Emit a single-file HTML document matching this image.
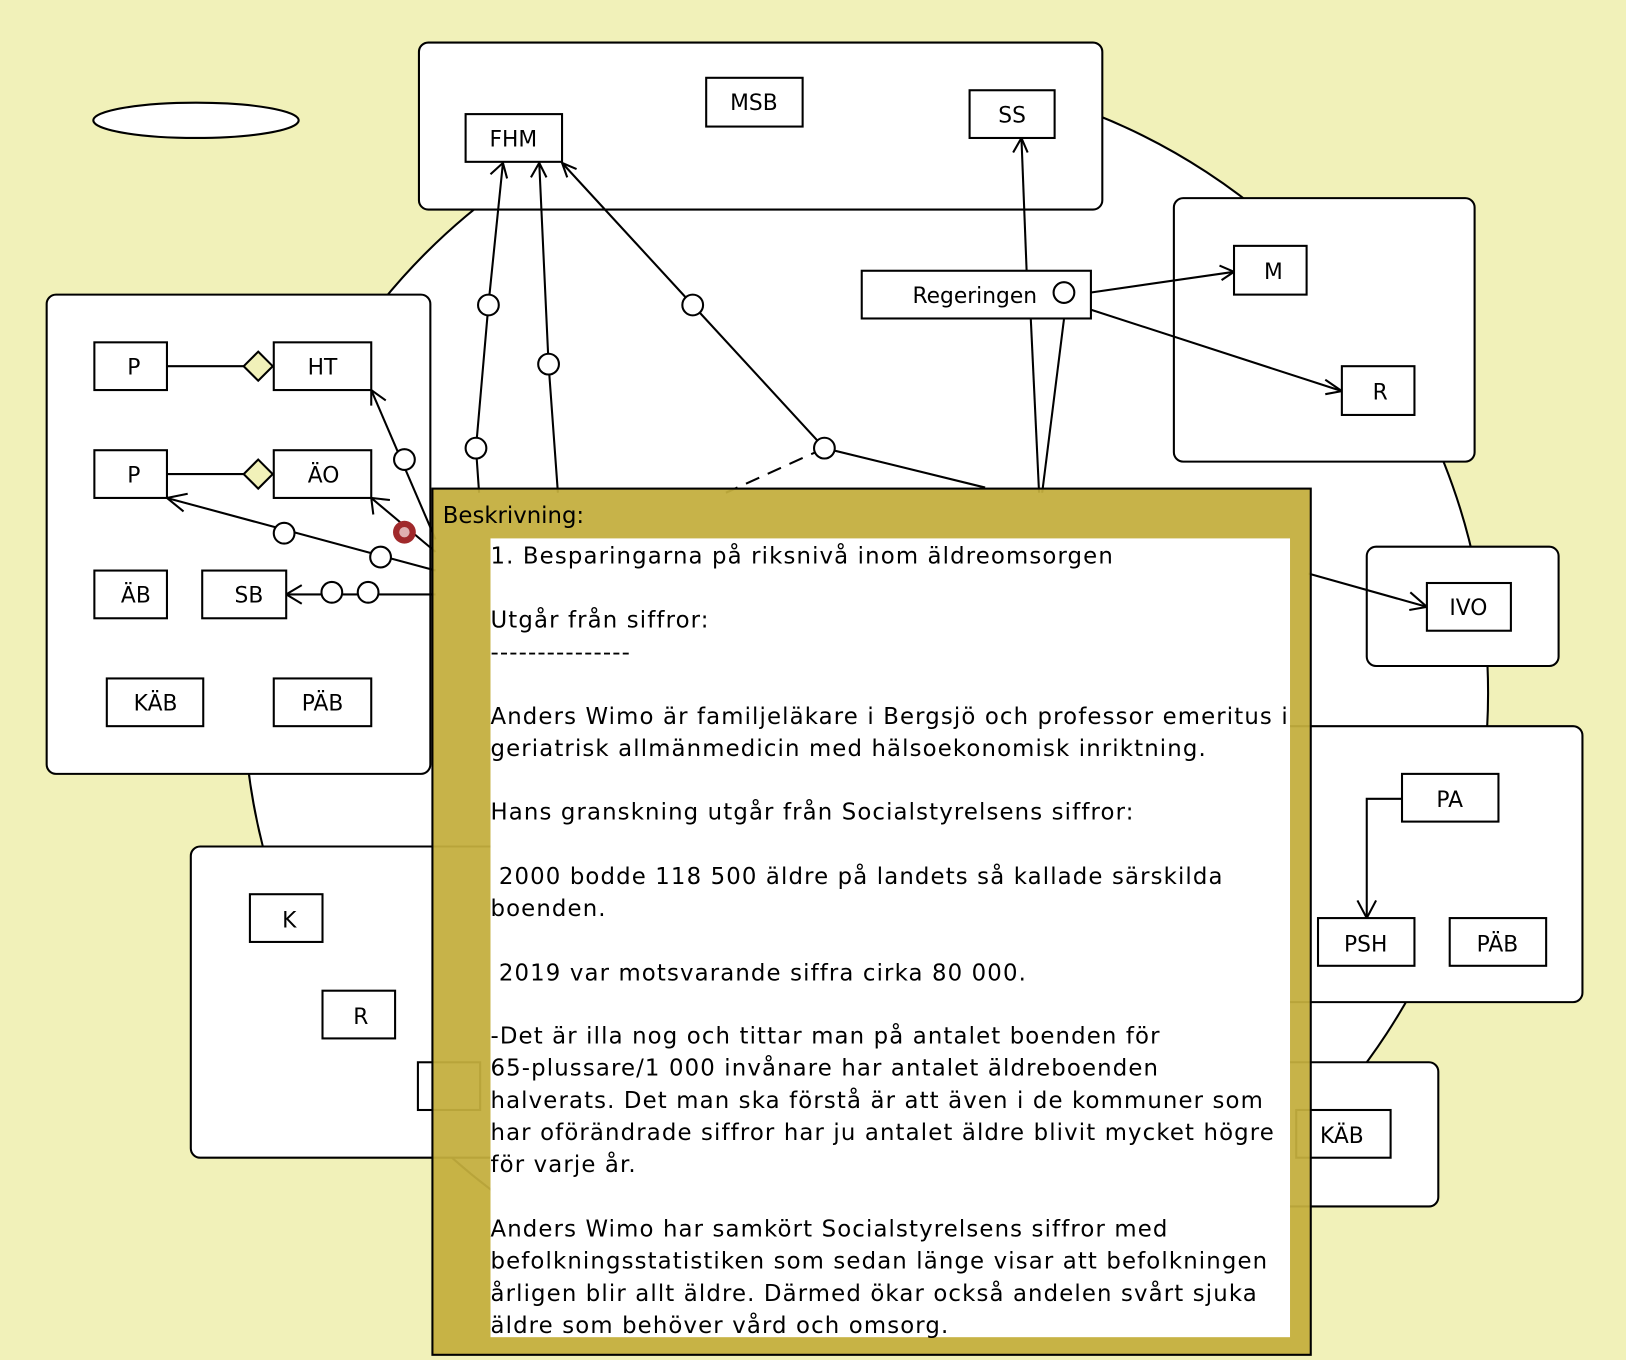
<!DOCTYPE html>
<html><head><meta charset="utf-8"><style>
html,body{margin:0;padding:0;width:1626px;height:1360px;overflow:hidden;background:#f1f1b9}
svg{display:block}
text{font-family:"DejaVu Sans","Liberation Sans",sans-serif}
</style></head><body>
<svg width="1626" height="1360" viewBox="0 0 1568 1311" preserveAspectRatio="none" xmlns="http://www.w3.org/2000/svg">
<rect width="1568" height="1311" fill="#f1f1b9"/>
<circle cx="835" cy="668" r="600" fill="#fff" stroke="#000" stroke-width="2"/>
<ellipse cx="189" cy="116" rx="99" ry="17" fill="#fff" stroke="#000" stroke-width="2"/>
<g fill="#fff" stroke="#000" stroke-width="2">
<rect x="404" y="41" width="659" height="161" rx="9"/>
<rect x="45" y="284" width="370" height="462" rx="9"/>
<rect x="1132" y="191" width="290" height="254" rx="9"/>
<rect x="1318" y="527" width="185" height="115" rx="9"/>
<rect x="1200" y="700" width="326" height="266" rx="9"/>
<rect x="184" y="816" width="300" height="300" rx="9"/>
<rect x="1200" y="1024" width="187" height="139" rx="9"/>
</g>
<g fill="none" stroke="#000" stroke-width="2">
<line x1="161" y1="353" x2="236" y2="353"/><line x1="161" y1="457" x2="236" y2="457"/>
<polyline points="462,475 459,432 471,294 485,157"/>
<polyline points="538,475 529,351 520,157"/>
<polyline points="950,470 795,432 668,294 542,157"/>
<line x1="795" y1="432" x2="700" y2="475" stroke-dasharray="14,9"/>
<line x1="990" y1="261" x2="985" y2="133"/>
<line x1="1038" y1="284" x2="1190" y2="262"/>
<line x1="1038" y1="294" x2="1294" y2="377"/>
<line x1="994" y1="307" x2="1002" y2="475"/>
<line x1="1028" y1="292" x2="1005" y2="475"/>
<polyline points="420,520 358,376"/>
<polyline points="420,532 358,480"/>
<polyline points="420,550 161,480"/>
<line x1="420" y1="573" x2="276" y2="573"/>
<line x1="1262" y1="553" x2="1376" y2="585"/>
<polyline points="1352,770 1318,770 1318,885"/>
<polyline points="473,168 485,157 489,172"/>
<polyline points="512,171 520,157 527,171"/>
<polyline points="556,163 542,157 547,171"/>
<polyline points="977,147 985,133 991,147"/>
<polyline points="1176,256 1190,262 1178,270"/>
<polyline points="1278,366 1294,377 1278,380"/>
<polyline points="358,391 358,376 372,386"/>
<polyline points="360,496 358,480 376,482"/>
<polyline points="177,493 161,480 181,476"/>
<polyline points="291,564 276,573 291,582"/>
<polyline points="1360,571 1376,585 1359,588"/>
<polyline points="1309,868 1318,885 1327,868"/>
</g>
<g fill="#fff" stroke="#000" stroke-width="2">
<circle cx="471" cy="294" r="10"/><circle cx="459" cy="432" r="10"/><circle cx="529" cy="351" r="10"/>
<circle cx="668" cy="294" r="10"/><circle cx="795" cy="432" r="10"/>
<circle cx="390" cy="443" r="10"/><circle cx="367" cy="537" r="10"/><circle cx="274" cy="514" r="10"/>
<circle cx="355" cy="571" r="10"/><circle cx="320" cy="571" r="10"/>
</g>
<circle cx="390" cy="513" r="11" fill="#a0292b"/><circle cx="390" cy="513" r="5" fill="#dfb0b0"/>
<g fill="#f1f1b9" stroke="#000" stroke-width="2">
<polygon points="249,339 263,353 249,367 235,353"/><polygon points="249,443 263,457 249,471 235,457"/>
</g>
<g fill="#fff" stroke="#000" stroke-width="2">
<rect x="681" y="75" width="93" height="47"/><rect x="935" y="87" width="82" height="46"/>
<rect x="449" y="110" width="93" height="46"/><rect x="831" y="261" width="221" height="46"/>
<rect x="1190" y="237" width="70" height="47"/><rect x="1294" y="353" width="70" height="47"/>
<rect x="91" y="330" width="70" height="46"/><rect x="264" y="330" width="94" height="46"/>
<rect x="91" y="434" width="70" height="46"/><rect x="264" y="434" width="94" height="46"/>
<rect x="91" y="550" width="70" height="46"/><rect x="195" y="550" width="81" height="46"/>
<rect x="103" y="654" width="93" height="46"/><rect x="264" y="654" width="94" height="46"/>
<rect x="1376" y="562" width="81" height="46"/>
<rect x="1352" y="746" width="93" height="46"/><rect x="1271" y="885" width="93" height="46"/><rect x="1398" y="885" width="93" height="46"/>
<rect x="241" y="862" width="70" height="46"/><rect x="311" y="955" width="70" height="46"/>
<rect x="403" y="1024" width="60" height="46"/><rect x="1250" y="1070" width="91" height="46"/>
<circle cx="1026" cy="282" r="10"/>
</g>
<g font-size="21" text-anchor="middle" fill="#000">
<text x="727" y="106">MSB</text><text x="976" y="118">SS</text><text x="495" y="141">FHM</text>
<text x="940" y="292">Regeringen</text><text x="1228" y="269">M</text><text x="1331" y="385">R</text>
<text x="129" y="361">P</text><text x="311" y="361">HT</text>
<text x="129" y="465">P</text><text x="312" y="465">ÄO</text>
<text x="131" y="581">ÄB</text><text x="240" y="581">SB</text>
<text x="150" y="685">KÄB</text><text x="311" y="685">PÄB</text>
<text x="1416" y="593">IVO</text>
<text x="1398" y="778">PA</text><text x="1317" y="917">PSH</text><text x="1444" y="917">PÄB</text>
<text x="279" y="894">K</text><text x="348" y="987">R</text><text x="1294" y="1102">KÄB</text>
</g>
<rect x="417" y="471" width="847" height="835" fill="#c4ae3e" fill-opacity="0.94" stroke="#000" stroke-width="2"/>
<rect x="473" y="519" width="771" height="770" fill="#fff"/>
<text x="427" y="504" font-size="22" fill="#000">Beskrivning:</text>
<g font-size="22" fill="#000" letter-spacing="1.1">
<text x="473" y="543">1. Besparingarna på riksnivå inom äldreomsorgen</text>
<text x="473" y="605">Utgår från siffror:</text>
<text x="473" y="636">---------------</text>
<text x="473" y="698">Anders Wimo är familjeläkare i Bergsjö och professor emeritus i</text>
<text x="473" y="729">geriatrisk allmänmedicin med hälsoekonomisk inriktning.</text>
<text x="473" y="790">Hans granskning utgår från Socialstyrelsens siffror:</text>
<text x="473" y="852">&#160;2000 bodde 118 500 äldre på landets så kallade särskilda</text>
<text x="473" y="883">boenden.</text>
<text x="473" y="945">&#160;2019 var motsvarande siffra cirka 80 000.</text>
<text x="473" y="1006">-Det är illa nog och tittar man på antalet boenden för</text>
<text x="473" y="1037">65-plussare/1 000 invånare har antalet äldreboenden</text>
<text x="473" y="1068">halverats. Det man ska förstå är att även i de kommuner som</text>
<text x="473" y="1099">har oförändrade siffror har ju antalet äldre blivit mycket högre</text>
<text x="473" y="1130">för varje år.</text>
<text x="473" y="1192">Anders Wimo har samkört Socialstyrelsens siffror med</text>
<text x="473" y="1223">befolkningsstatistiken som sedan länge visar att befolkningen</text>
<text x="473" y="1254">årligen blir allt äldre. Därmed ökar också andelen svårt sjuka</text>
<text x="473" y="1285">äldre som behöver vård och omsorg.</text>
</g>
</svg>
</body></html>
